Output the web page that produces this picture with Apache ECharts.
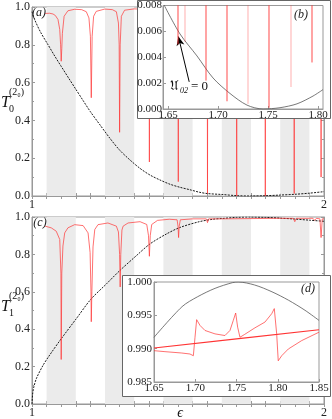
<!DOCTYPE html>
<html>
<head>
<meta charset="utf-8">
<script src="https://cdn.jsdelivr.net/npm/echarts@6/dist/echarts.min.js"></script>
<style>
html, body { margin: 0; padding: 0; background: #fff; }
#chart { width: 332px; height: 419px; }
</style>
</head>
<body>
<div id="chart"></div>
<script>
// shaded bands
var bandStart = [1.05, 1.25, 1.45, 1.65, 1.85];
var bandEnd = [1.15, 1.35, 1.55, 1.75, 1.95];
// tick labels
var mainXLabels = [1, 2];
var insetBXTicks = [1.65, 1.70, 1.75, 1.80];
var insetDXTicks = [1.65, 1.70, 1.75, 1.80, 1.85];

// (a) T0 : black dashed and red
var t0Black = [[1.000,0.975],[1.010,0.930],[1.030,0.865],[1.055,0.800],[1.080,0.735],[1.100,0.686],[1.125,0.625],
    [1.150,0.565],[1.175,0.505],[1.200,0.446],[1.233,0.376],[1.267,0.305],[1.300,0.243],[1.336,0.190],[1.370,0.146],
    [1.404,0.111],[1.438,0.085],[1.473,0.062],[1.507,0.046],[1.541,0.033],[1.573,0.020],[1.600,0.013],[1.650,0.008],
    [1.700,0.002],[1.750,0.000],[1.800,0.0015],[1.850,0.005],[1.900,0.009],[1.950,0.015],[2.000,0.023]];
var t0Red = [[1.045,0.966],[1.060,0.967],[1.072,0.963],[1.080,0.955],[1.089,0.934],[1.095,0.881],[1.098,0.80],[1.100,0.713],
    [1.102,0.78],[1.104,0.86],[1.110,0.951],[1.123,0.980],[1.146,0.988],[1.170,0.986],[1.186,0.975],[1.195,0.942],[1.200,0.845],
    [1.203,0.520],[1.206,0.845],[1.211,0.951],[1.220,0.977],[1.249,0.989],[1.275,0.986],[1.289,0.975],[1.296,0.915],[1.2985,0.80],
    [1.300,0.337],[1.302,0.80],[1.306,0.951],[1.317,0.983],[1.350,0.990],[1.380,0.988],[1.392,0.975],[1.398,0.91],[1.401,0.70],
    [1.402,0.180],[1.403,0.70],[1.406,0.95],[1.415,0.985],[1.450,0.990],[1.497,0.990],[1.500,0.60],[1.501,0.076],[1.502,0.60],
    [1.505,0.990],[1.598,0.990],[1.6005,0.50],[1.601,0.014],[1.6015,0.50],[1.604,0.990],[1.698,0.990],[1.7005,0.50],[1.701,0.000],
    [1.7015,0.50],[1.704,0.990],[1.796,0.990],[1.7985,0.50],[1.799,0.000],[1.7995,0.50],[1.802,0.990],[1.895,0.990],[1.8975,0.50],
    [1.898,0.013],[1.8985,0.50],[1.901,0.990],[1.987,0.990],[1.9895,0.55],[1.990,0.100],[1.9905,0.55],[1.993,0.990],[2.000,0.990]];

// (c) T1
var t1Black = [[1.000,0.000],[1.002,0.050],[1.006,0.090],[1.016,0.140],[1.039,0.210],[1.062,0.265],[1.102,0.353],[1.153,0.459],
    [1.201,0.559],[1.256,0.644],[1.301,0.714],[1.358,0.794],[1.404,0.856],[1.459,0.908],[1.505,0.943],[1.573,0.975],[1.620,0.988],
    [1.650,0.992],[1.700,0.998],[1.750,1.000],[1.800,0.998],[1.850,0.994],[1.900,0.989],[1.950,0.983],[2.000,0.977]];
var t1Red = [[1.045,0.951],[1.066,0.942],[1.083,0.924],[1.095,0.880],[1.099,0.700],[1.100,0.238],[1.102,0.700],[1.106,0.845],
    [1.112,0.915],[1.123,0.942],[1.146,0.959],[1.175,0.954],[1.192,0.915],[1.199,0.810],[1.202,0.600],[1.203,0.440],[1.205,0.600],
    [1.209,0.840],[1.215,0.933],[1.226,0.959],[1.260,0.968],[1.289,0.951],[1.296,0.920],[1.300,0.800],[1.302,0.626],[1.304,0.800],
    [1.308,0.930],[1.312,0.951],[1.329,0.968],[1.370,0.975],[1.393,0.960],[1.399,0.900],[1.402,0.790],[1.405,0.900],[1.410,0.960],
    [1.430,0.982],[1.470,0.988],[1.497,0.985],[1.500,0.950],[1.502,0.890],[1.504,0.950],[1.508,0.985],[1.550,0.990],[1.597,0.990],
    [1.601,0.970],[1.605,0.990],[1.650,0.990],[1.750,0.9915],[1.850,0.993],[1.895,0.993],[1.900,0.975],[1.905,0.993],[1.962,0.993],
    [1.968,0.982],[1.974,0.993],[1.986,0.990],[1.990,0.890],[1.994,0.990],[2.000,0.990]];

// (b) zoom of T0
var bBlack = [[1.645,0.0082],[1.662,0.0058],[1.679,0.0041],[1.695,0.0024],[1.712,0.0012],[1.729,0.0003],[1.745,0.0000],
    [1.762,0.0001],[1.779,0.0004],[1.795,0.0010],[1.805,0.0015]];
var bRedStrong = [[1.645,0.05],[1.6599,0.05],[1.660,0.0050],[1.6601,0.05],[1.6879,0.05],[1.688,0.0022],[1.6881,0.05],
    [1.7089,0.05],[1.709,0.0006],[1.7091,0.05],[1.7509,0.05],[1.751,0.0001],[1.7511,0.05],[1.7939,0.05],[1.794,0.0036],
    [1.7941,0.05],[1.805,0.05]];
var bRedFaint = [[1.645,0.05],[1.6669,0.05],[1.667,0.0052],[1.6671,0.05],[1.7299,0.05],[1.730,0.0004],[1.7301,0.05],
    [1.7729,0.05],[1.773,0.0017],[1.7731,0.05],[1.805,0.05]];

// (d) zoom of T1
var dBlack = [[1.650,0.9917],[1.684,0.9963],[1.703,0.9978],[1.724,0.99905],[1.745,0.9999],[1.752,1.0000],[1.772,0.99955],
    [1.793,0.99853],[1.813,0.99727],[1.833,0.99576],[1.850,0.99424]];
var dRedBase = [[1.65,0.9901],[1.75,0.99147],[1.85,0.99283]];
var dRedA = [[1.650,0.9897],[1.6633,0.98955],[1.6836,0.98935],[1.6936,0.9892],[1.6977,0.98894],[1.6997,0.99171],[1.7017,0.99435],
    [1.7058,0.99348],[1.7118,0.99273],[1.7239,0.99222],[1.7360,0.99197],[1.7421,0.99273],[1.7461,0.99424],[1.7490,0.99535],
    [1.7514,0.99323],[1.7542,0.99171],[1.7600,0.99215],[1.7724,0.99313],[1.7845,0.99399],[1.7927,0.99525],[1.7958,0.99601],
    [1.7987,0.99222],[1.8006,0.98818],[1.8048,0.98894],[1.8128,0.98995],[1.8290,0.99121],[1.8500,0.99247]];

var SERIF = '"Liberation Serif", "DejaVu Serif", serif';
var FRAME = '#999';
var RED = '#f33';

var bands = [];
for (var i = 0; i < bandStart.length; i++) {
    bands.push([{xAxis: bandStart[i]}, {xAxis: bandEnd[i]}]);
}

function tickStyle(len) {
    return {show: true, inside: true, length: len, lineStyle: {color: FRAME}};
}

function mainX(gi, pos, showLabel) {
    return {
        type: 'value', gridIndex: gi, position: pos, min: 1, max: 2, interval: 0.05,
        axisLine: {show: true, lineStyle: {color: FRAME}},
        axisTick: tickStyle(3),
        splitLine: {show: false},
        axisLabel: {
            show: showLabel, margin: 3, fontSize: 12, fontFamily: SERIF, color: '#222',
            showMinLabel: true, showMaxLabel: true,
            formatter: function (v) {
                var r = Math.round(v * 100) / 100;
                return mainXLabels.indexOf(r) >= 0 ? String(r) : '';
            }
        }
    };
}

function mainY(gi, pos, showLabel) {
    return {
        type: 'value', gridIndex: gi, position: pos, min: 0, max: 1, interval: 0.2,
        axisLine: {show: true, lineStyle: {color: FRAME}},
        axisTick: tickStyle(3),
        minorTick: {show: true, splitNumber: 2, length: 2, lineStyle: {color: FRAME}},
        splitLine: {show: false},
        axisLabel: {
            show: showLabel, margin: 2, fontSize: 12, fontFamily: SERIF, color: '#222',
            formatter: function (v) { return v.toFixed(1); }
        }
    };
}

function line(data, xi, yi, color, width, z, extra) {
    var s = {
        type: 'line', xAxisIndex: xi, yAxisIndex: yi, data: data, showSymbol: false, symbol: 'none',
        lineStyle: {color: color, width: width}, z: z, silent: true, clip: true
    };
    for (var k in extra) s[k] = extra[k];
    return s;
}

function bandSeries(xi, yi) {
    return {
        type: 'line', xAxisIndex: xi, yAxisIndex: yi, data: [], z: 1, silent: true,
        markArea: {silent: true, itemStyle: {color: '#ebebeb'}, data: bands}
    };
}

var chart = echarts.init(document.getElementById('chart'), null, {renderer: 'canvas'});

chart.setOption({
    animation: false,
    backgroundColor: '#fff',
    grid: [
        {left: 32, top: 7, width: 292, height: 189, show: true, borderColor: FRAME, borderWidth: 1},
        {left: 32, top: 217, width: 292, height: 188, show: true, borderColor: FRAME, borderWidth: 1},
        {left: 163, top: 5, width: 160, height: 104, show: true, borderColor: FRAME, borderWidth: 1, z: 6},
        {left: 154, top: 282, width: 165, height: 100, show: true, borderColor: FRAME, borderWidth: 1, z: 6}
    ],
    xAxis: [
        mainX(0, 'bottom', true),
        mainX(0, 'top', false),
        mainX(1, 'bottom', true),
        mainX(1, 'top', false),
        {
            type: 'value', gridIndex: 2, min: 1.645, max: 1.805, z: 7,
            axisLine: {show: true, lineStyle: {color: FRAME}},
            axisTick: {show: true, inside: true, length: 3, customValues: insetBXTicks, lineStyle: {color: FRAME}},
            splitLine: {show: false},
            axisLabel: {customValues: insetBXTicks, margin: 1, fontSize: 11, fontFamily: SERIF, color: '#222',
                formatter: function (v) { return v.toFixed(2); }}
        },
        {
            type: 'value', gridIndex: 3, min: 1.65, max: 1.85, interval: 0.05, z: 7,
            axisLine: {show: true, lineStyle: {color: FRAME}},
            axisTick: tickStyle(3),
            splitLine: {show: false},
            axisLabel: {margin: 1, fontSize: 11, fontFamily: SERIF, color: '#222', showMinLabel: true, showMaxLabel: true,
                formatter: function (v) { return v.toFixed(2); }}
        }
    ],
    yAxis: [
        mainY(0, 'left', true),
        mainY(0, 'right', false),
        mainY(1, 'left', true),
        mainY(1, 'right', false),
        {
            type: 'value', gridIndex: 2, min: 0, max: 0.008, interval: 0.002, z: 7,
            axisLine: {show: true, lineStyle: {color: FRAME}},
            axisTick: tickStyle(3),
            splitLine: {show: false},
            axisLabel: {margin: 1, fontSize: 11, fontFamily: SERIF, color: '#222',
                formatter: function (v) { return v.toFixed(3); }}
        },
        {
            type: 'value', gridIndex: 3, min: 0.985, max: 1.0, interval: 0.005, z: 7,
            axisLine: {show: true, lineStyle: {color: FRAME}},
            axisTick: tickStyle(3),
            splitLine: {show: false},
            axisLabel: {margin: 2, fontSize: 11, fontFamily: SERIF, color: '#222',
                formatter: function (v) { return v.toFixed(3); }}
        }
    ],
    series: [
        bandSeries(0, 0),
        bandSeries(2, 2),
        line(t0Black, 0, 0, '#000', 1, 3, {smooth: 0.3, lineStyle: {color: '#000', width: 0.9, type: [2, 1.2]}}),
        line(t0Red, 0, 0, RED, 0.7, 4),
        line(t1Black, 2, 2, '#000', 1, 3, {smooth: 0.3, lineStyle: {color: '#000', width: 0.9, type: [2, 1.2]}}),
        line(t1Red, 2, 2, RED, 0.7, 4),
        line(bBlack, 4, 4, '#555', 0.8, 8, {
            smooth: 0.3,
            markLine: {
                silent: true, symbol: ['none', 'arrow'], symbolSize: [6, 9],
                lineStyle: {color: '#000', width: 1, type: 'solid'}, label: {show: false},
                data: [[{coord: [1.6712, 0.0021]}, {coord: [1.6604, 0.0056]}]]
            }
        }),
        line(bRedStrong, 4, 4, RED, 0.6, 9, {lineStyle: {color: RED, width: 0.6, opacity: 0.85}}),
        line(bRedFaint, 4, 4, RED, 0.6, 9, {lineStyle: {color: RED, width: 0.6, opacity: 0.35}}),
        line(dBlack, 5, 5, '#555', 0.8, 8, {smooth: 0.3}),
        line(dRedBase, 5, 5, RED, 1.1, 9),
        line(dRedA, 5, 5, RED, 0.7, 9)
    ],
    graphic: {
        elements: [
            {type: 'rect', z: 5, shape: {x: 137.5, y: 0.5, width: 193, height: 118},
                style: {fill: '#fff', stroke: '#666', lineWidth: 1}},
            {type: 'rect', z: 5, shape: {x: 122.5, y: 275.5, width: 208, height: 121},
                style: {fill: '#fff', stroke: '#666', lineWidth: 1}},
            // panel letters
            {type: 'text', z: 10, x: 39, y: 13, style: {text: '(a)', font: 'italic 12px ' + SERIF, fill: '#222', align: 'center', verticalAlign: 'middle'}},
            {type: 'text', z: 10, x: 40, y: 223, style: {text: '(c)', font: 'italic 12px ' + SERIF, fill: '#222', align: 'center', verticalAlign: 'middle'}},
            {type: 'text', z: 10, x: 301, y: 15, style: {text: '(b)', font: 'italic 12px ' + SERIF, fill: '#222', align: 'center', verticalAlign: 'middle'}},
            {type: 'text', z: 10, x: 308, y: 289, style: {text: '(d)', font: 'italic 12px ' + SERIF, fill: '#222', align: 'center', verticalAlign: 'middle'}},
            // y titles
            {type: 'text', z: 10, x: 1, y: 103, style: {text: 'T', font: 'italic 16px ' + SERIF, fill: '#111', align: 'left', verticalAlign: 'middle'}},
            {type: 'text', z: 10, x: 9, y: 92, style: {text: '(2₀)', font: '10px ' + SERIF, fill: '#111', align: 'left', verticalAlign: 'middle'}},
            {type: 'text', z: 10, x: 9, y: 109, style: {text: '0', font: '10px ' + SERIF, fill: '#111', align: 'left', verticalAlign: 'middle'}},
            {type: 'text', z: 10, x: 1, y: 307, style: {text: 'T', font: 'italic 16px ' + SERIF, fill: '#111', align: 'left', verticalAlign: 'middle'}},
            {type: 'text', z: 10, x: 9, y: 296, style: {text: '(2₀)', font: '10px ' + SERIF, fill: '#111', align: 'left', verticalAlign: 'middle'}},
            {type: 'text', z: 10, x: 9, y: 313, style: {text: '1', font: '10px ' + SERIF, fill: '#111', align: 'left', verticalAlign: 'middle'}},
            // x title
            {type: 'text', z: 10, x: 180, y: 413, style: {text: 'ϵ', font: 'italic 14px ' + SERIF, fill: '#111', align: 'center', verticalAlign: 'middle'}},
            // annotation in (b)
            {type: 'text', z: 10, x: 170, y: 87, style: {text: '𝔘', font: '13px "DejaVu Sans", serif', fill: '#111', align: 'left', verticalAlign: 'middle'}},
            {type: 'text', z: 10, x: 180, y: 91, style: {text: '02', font: 'italic 8px ' + SERIF, fill: '#111', align: 'left', verticalAlign: 'middle'}},
            {type: 'text', z: 10, x: 191, y: 87, style: {text: '= 0', font: '13px ' + SERIF, fill: '#111', align: 'left', verticalAlign: 'middle'}}
        ]
    }
});
</script>
</body>
</html>
